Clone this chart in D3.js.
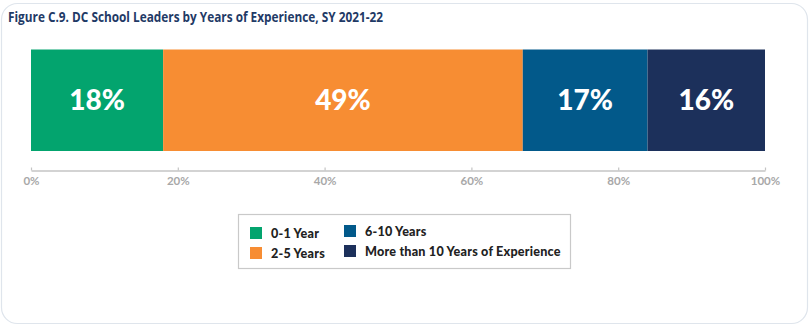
<!DOCTYPE html>
<html>
<head>
<meta charset="utf-8">
<script src="https://cdn.jsdelivr.net/npm/d3@7"></script>
<style>
  html, body { margin: 0; padding: 0; background: #ffffff; }
  svg { display: block; }
</style>
</head>
<body>
<svg id="chart" width="809" height="326"></svg>
<script>
// Share of DC school leaders by years of experience, SY 2021-22
const categories = ["0-1 Year", "2-5 Years", "6-10 Years", "More than 10 Years of Experience"];
const shares = [18, 49, 17, 16];
const colors = ["#03a46e", "#f78d33", "#02598a", "#1c305b"];
const tickValues = [0, 20, 40, 60, 80, 100];
const title = "Figure C.9. DC School Leaders by Years of Experience, SY 2021-22";

const svg = d3.select("#chart");

// card frame
svg.append("rect")
  .attr("x", 1.5).attr("y", 3.5)
  .attr("width", 806).attr("height", 320)
  .attr("rx", 16).attr("ry", 16)
  .attr("fill", "#ffffff")
  .attr("stroke", "#dfe5ec")
  .attr("stroke-width", 1.2);

svg.append("text")
  .attr("x", 8).attr("y", 22)
  .attr("font-family", "'Open Sans', sans-serif")
  .attr("font-weight", 700)
  .attr("font-size", 13.5)
  .attr("textLength", 375)
  .attr("lengthAdjust", "spacingAndGlyphs")
  .attr("fill", "#1f3a66")
  .text(title);

const x = d3.scaleLinear().domain([0, 100]).range([31, 765]);
const barTop = 49.5, barBottom = 151;

// stacked segments
let acc = 0;
const segs = shares.map((v, i) => {
  const s = { start: acc, end: acc + v, value: v, color: colors[i], name: categories[i] };
  acc += v;
  return s;
});

svg.append("g").selectAll("rect")
  .data(segs)
  .join("rect")
  .attr("x", d => x(d.start))
  .attr("y", barTop)
  .attr("width", d => x(d.end) - x(d.start))
  .attr("height", barBottom - barTop)
  .attr("fill", d => d.color);

svg.append("g").selectAll("text")
  .data(segs)
  .join("text")
  .attr("x", d => (x(d.start) + x(d.end)) / 2)
  .attr("y", (barTop + barBottom) / 2)
  .attr("dy", "0.36em")
  .attr("text-anchor", "middle")
  .attr("font-family", "Lato, sans-serif")
  .attr("font-weight", 900)
  .attr("font-size", 28)
  .attr("fill", "#ffffff")
  .text(d => d.value + "%");

// axis
const axis = d3.axisTop(x)
  .tickValues(tickValues)
  .tickFormat(d => d + "%")
  .tickSize(3)
  .tickSizeOuter(0);

const ag = svg.append("g")
  .attr("transform", "translate(0,170.5)")
  .call(axis);
ag.select(".domain").attr("stroke", "#c4c4c4").attr("stroke-width", 1.5);
ag.selectAll(".tick line").attr("stroke", "#c4c4c4").attr("stroke-width", 1.2);
ag.selectAll(".tick text")
  .attr("y", 14)
  .attr("dy", "0")
  .attr("font-family", "Lato, sans-serif")
  .attr("font-weight", 700)
  .attr("font-size", 11.5)
  .attr("fill", "#a8a8a8");

// legend
const lg = svg.append("g");
lg.append("rect")
  .attr("x", 238.5).attr("y", 214.5)
  .attr("width", 332).attr("height", 54)
  .attr("fill", "#ffffff")
  .attr("stroke", "#c9c9c9")
  .attr("stroke-width", 1.2);

const legendPos = [
  { sx: 250, ty: 233 }, { sx: 250, ty: 253 },
  { sx: 344, ty: 231 }, { sx: 344, ty: 251 }
];

const items = lg.selectAll("g.item")
  .data(segs)
  .join("g")
  .attr("class", "item")
  .attr("transform", (d, i) => `translate(${legendPos[i].sx},${legendPos[i].ty})`);

items.append("rect")
  .attr("x", 0).attr("y", -6)
  .attr("width", 12).attr("height", 12)
  .attr("fill", d => d.color);

items.append("text")
  .attr("x", 21).attr("y", 0)
  .attr("dy", "0.36em")
  .attr("font-family", "Lato, sans-serif")
  .attr("font-weight", 900)
  .attr("font-size", 12.6)
  .attr("letter-spacing", 0.2)
  .attr("fill", "#222222")
  .text(d => d.name);
</script>
</body>
</html>
